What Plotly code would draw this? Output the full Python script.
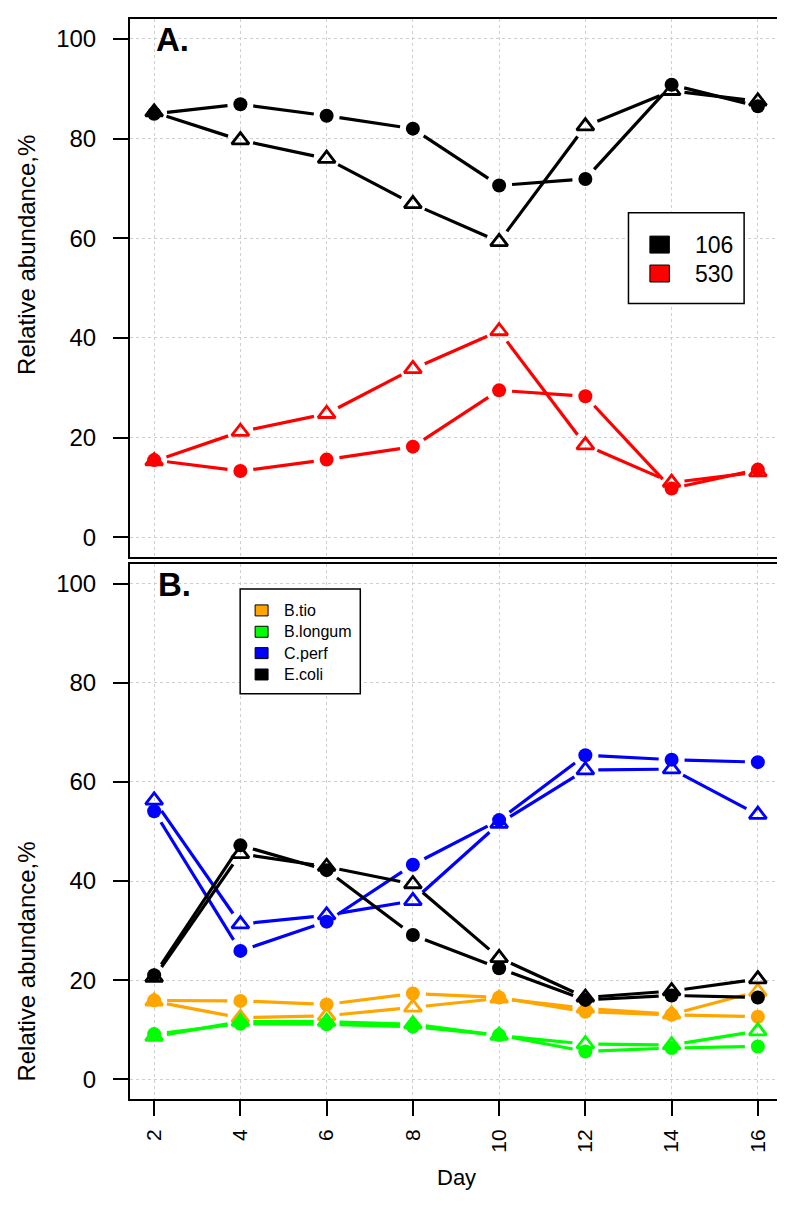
import math
import plotly.graph_objects as go

# ---------------- data ----------------
days = [2, 4, 6, 8, 10, 12, 14, 16]
day_labels = [str(d) for d in days]
y_ticks = [0, 20, 40, 60, 80, 100]

# Panel A (circles = filled markers, triangles = open markers)
a_names = ["106", "530"]
a_colors = ["#000000", "#FF0000"]
a106_circle = [85.0, 86.9, 84.6, 82.0, 70.6, 71.9, 90.8, 86.5]
a106_triangle = [85.3, 79.7, 76.0, 66.9, 59.3, 82.5, 89.6, 87.5]
a530_circle = [15.5, 13.3, 15.6, 18.2, 29.5, 28.3, 9.8, 13.6]
a530_triangle = [15.3, 21.2, 24.8, 33.8, 41.4, 18.5, 11.0, 13.1]

# Panel B
b_names = ["B.tio", "B.longum", "C.perf", "E.coli"]
b_colors = ["#FFA500", "#00FF00", "#0000FF", "#000000"]
btio_circle = [15.9, 15.8, 15.1, 17.3, 16.5, 13.6, 13.0, 12.6]
btio_triangle = [15.7, 12.4, 12.8, 14.5, 16.3, 14.3, 13.1, 17.7]
blongum_circle = [9.1, 11.2, 11.1, 10.6, 8.9, 5.6, 6.3, 6.6]
blongum_triangle = [8.6, 11.6, 11.6, 11.1, 8.8, 7.1, 6.9, 9.7]
cperf_circle = [54.1, 25.9, 31.8, 43.3, 52.3, 65.4, 64.5, 64.0]
cperf_triangle = [56.3, 31.3, 33.1, 36.0, 51.6, 62.4, 62.6, 53.4]
ecoli_circle = [21.0, 47.2, 42.2, 29.1, 22.4, 16.0, 16.9, 16.5]
ecoli_triangle = [20.5, 45.5, 42.9, 39.4, 24.5, 16.5, 17.8, 20.2]

# ---------------- layout geometry ----------------
W, H = 785, 1218
ML, MR, MT, MB = 122, 9, 9, 127
PW, PH = W - ML - MR, H - MT - MB
XR = [1.44, 16.56]
YR = [-4, 104]
domA = [(H - MB - 548.3) / PH, 1.0]
domB = [0.0, (H - MB - 555) / PH]
FONT = "Liberation Sans, Arial, Helvetica, sans-serif"


def px(x):
    return (x - ML) / PW


def py(y):
    return (H - MB - y) / PH


def gapped(xs, ys, dom, gap=13):
    """R type='b' style: segments stop short of each point."""
    kx = PW / (XR[1] - XR[0])
    ky = (dom[1] - dom[0]) * PH / (YR[1] - YR[0])
    ox, oy = [], []
    for i in range(len(xs) - 1):
        dx = (xs[i + 1] - xs[i]) * kx
        dy = (ys[i + 1] - ys[i]) * ky
        L = math.hypot(dx, dy)
        if L <= 2 * gap:
            continue
        f = gap / L
        ox += [xs[i] + (xs[i + 1] - xs[i]) * f, xs[i + 1] - (xs[i + 1] - xs[i]) * f, None]
        oy += [ys[i] + (ys[i + 1] - ys[i]) * f, ys[i + 1] - (ys[i + 1] - ys[i]) * f, None]
    return ox, oy


fig = go.Figure()


def add_series(ys, color, kind, xa, ya, dom):
    lx, ly = gapped(days, ys, dom)
    fig.add_trace(go.Scatter(x=lx, y=ly, mode="lines", xaxis=xa, yaxis=ya,
                             line=dict(color=color, width=3.2), showlegend=False,
                             hoverinfo="skip"))
    if kind == "circle":
        marker = dict(symbol="circle", size=14, color=color, line=dict(width=0))
    else:
        marker = dict(symbol="triangle-up-open", size=15, color=color,
                      line=dict(width=2.8, color=color))
    fig.add_trace(go.Scatter(x=days, y=ys, mode="markers", xaxis=xa, yaxis=ya,
                             marker=marker, showlegend=False))


# Panel A
for ys, col, kind in [(a106_circle, a_colors[0], "circle"), (a106_triangle, a_colors[0], "tri"),
                      (a530_circle, a_colors[1], "circle"), (a530_triangle, a_colors[1], "tri")]:
    add_series(ys, col, kind, "x", "y", domA)

# Panel B
for ys, col, kind in [(btio_circle, b_colors[0], "circle"), (btio_triangle, b_colors[0], "tri"),
                      (blongum_circle, b_colors[1], "circle"), (blongum_triangle, b_colors[1], "tri"),
                      (cperf_circle, b_colors[2], "circle"), (cperf_triangle, b_colors[2], "tri"),
                      (ecoli_circle, b_colors[3], "circle"), (ecoli_triangle, b_colors[3], "tri")]:
    add_series(ys, col, kind, "x2", "y2", domB)

common_x = dict(range=XR, tickvals=days, showgrid=True, gridcolor="#cfcfcf", gridwidth=1,
                griddash="dot", zeroline=False, showline=True, linecolor="black",
                linewidth=2, mirror=True)
common_y = dict(range=YR, tickvals=y_ticks, ticktext=[str(v) for v in y_ticks],
                showgrid=True, gridcolor="#cfcfcf", gridwidth=1, griddash="dot",
                zeroline=False, showline=True, linecolor="black", linewidth=2, mirror=True,
                ticks="outside", ticklen=15, tickwidth=2, tickcolor="black",
                tickfont=dict(family=FONT, size=24, color="black"), ticklabelstandoff=12)

fig.update_layout(
    width=W, height=H, margin=dict(l=ML, r=MR, t=MT, b=MB),
    paper_bgcolor="white", plot_bgcolor="white",
    xaxis=dict(**common_x, anchor="y", showticklabels=False, ticks=""),
    yaxis=dict(**common_y, domain=domA, anchor="x"),
    xaxis2=dict(**common_x, anchor="y2", ticktext=day_labels, ticks="outside", ticklen=15,
                tickwidth=2, tickcolor="black", tickangle=-90, ticklabelstandoff=5,
                tickfont=dict(family=FONT, size=21, color="black")),
    yaxis2=dict(**common_y, domain=domB, anchor="x2"),
    showlegend=False,
)

ann = []
shapes = []
# panel letters
ann.append(dict(text="<b>A.</b>", x=px(146), y=py(30), xref="paper", yref="paper",
                xanchor="left", yanchor="middle", showarrow=False,
                font=dict(family=FONT, size=33, color="black")))
ann.append(dict(text="<b>B.</b>", x=px(148), y=py(576), xref="paper", yref="paper",
                xanchor="left", yanchor="middle", showarrow=False,
                font=dict(family=FONT, size=33, color="black")))
# y titles
for yc in (245, 953):
    ann.append(dict(text="Relative abundance,%", x=px(18), y=py(yc), xref="paper", yref="paper",
                    xanchor="center", yanchor="middle", textangle=-90, showarrow=False,
                    font=dict(family=FONT, size=24, color="black")))
# x title
ann.append(dict(text="Day", x=px(449), y=py(1170), xref="paper", yref="paper",
                xanchor="center", yanchor="middle", showarrow=False,
                font=dict(family=FONT, size=22, color="black")))

# legend A
shapes.append(dict(type="rect", xref="paper", yref="paper", x0=px(622), x1=px(738),
                   y0=py(294), y1=py(203), line=dict(color="black", width=1.5),
                   fillcolor="white", layer="above"))
for i, (name, col) in enumerate(zip(a_names, a_colors)):
    cy = 235 + i * 29
    shapes.append(dict(type="rect", xref="paper", yref="paper", x0=px(643.5), x1=px(663),
                       y0=py(cy + 8.5), y1=py(cy - 8.5), line=dict(color="black", width=1),
                       fillcolor=col, layer="above"))
    ann.append(dict(text=name, x=px(687), y=py(cy), xref="paper", yref="paper",
                    xanchor="left", yanchor="middle", showarrow=False,
                    font=dict(family=FONT, size=23, color="black")))

# legend B
shapes.append(dict(type="rect", xref="paper", yref="paper", x0=px(232.5), x1=px(353),
                   y0=py(685), y1=py(580), line=dict(color="black", width=1.5),
                   fillcolor="white", layer="above"))
for i, (name, col) in enumerate(zip(b_names, b_colors)):
    cy = 601.5 + i * 21.4
    shapes.append(dict(type="rect", xref="paper", yref="paper", x0=px(247.5), x1=px(260.5),
                       y0=py(cy + 5.5), y1=py(cy - 5.5), line=dict(color="black", width=1),
                       fillcolor=col, layer="above"))
    ann.append(dict(text=name, x=px(274), y=py(cy), xref="paper", yref="paper",
                    xanchor="left", yanchor="middle", showarrow=False,
                    font=dict(family=FONT, size=16, color="black")))

fig.update_layout(annotations=ann, shapes=shapes)
fig.write_html("out.html")
